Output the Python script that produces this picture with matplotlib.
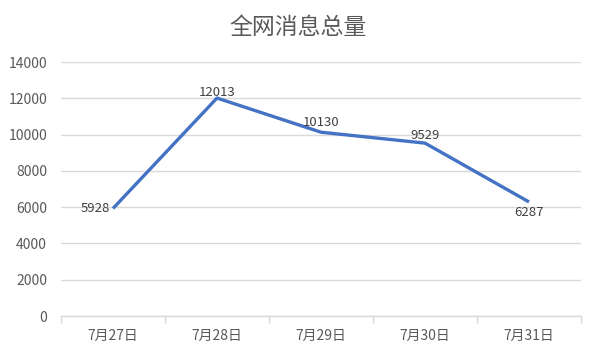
import matplotlib
matplotlib.use("Agg")
import matplotlib.pyplot as plt
from matplotlib.ticker import FixedLocator

plt.rcParams['font.family'] = ['Noto Sans CJK SC', 'DejaVu Sans']

title = "全网消息总量"
dates = ["7月27日", "7月28日", "7月29日", "7月30日", "7月31日"]
totals = [5928, 12013, 10130, 9529, 6287]
y_ticks = [0, 2000, 4000, 6000, 8000, 10000, 12000, 14000]

fig = plt.figure(figsize=(5.96, 3.56), dpi=100)
ax = fig.add_axes([61/596, 1 - 316/356, 520/596, 254/356])

x = list(range(len(dates)))
ax.plot(x, totals, color="#4472C4", linewidth=2.4, solid_capstyle="butt", zorder=3)

# data labels: left, above, above, above, below
offsets = [(-2, 0, "right", "center"), (0, -1, "center", "bottom"),
           (0, 2, "center", "bottom"), (0, 1, "center", "bottom"),
           (0, -3, "center", "top")]
for xi, v, (dx, dy, ha, va) in zip(x, totals, offsets):
    ax.annotate(str(v), (xi, v), xytext=(dx, dy), textcoords="offset points",
                ha=ha, va=va, fontsize=9.5, color="#404040", zorder=4)

ax.set_xlim(-0.5, len(dates) - 0.5)
ax.set_ylim(0, 14000)
ax.set_yticks(y_ticks)
ax.set_yticklabels([str(t) for t in y_ticks])
ax.set_xticks(x)
ax.set_xticklabels(dates)
ax.xaxis.set_minor_locator(FixedLocator([i - 0.5 for i in range(len(dates) + 1)]))

ax.grid(axis="y", color="#D9D9D9", linewidth=1.0, zorder=0)
for s in ["top", "right", "left"]:
    ax.spines[s].set_visible(False)
ax.spines["bottom"].set_color("#D9D9D9")
ax.spines["bottom"].set_linewidth(1.0)

ax.tick_params(axis="y", length=0, pad=10, labelsize=10, labelcolor="#595959")
ax.tick_params(axis="x", which="major", length=0, pad=9, labelsize=10, labelcolor="#595959")
ax.tick_params(axis="x", which="minor", length=5, width=1.0, color="#D9D9D9")

fig.text(0.5, 1 - 27/356, title, ha="center", va="center", fontsize=16.5, color="#595959")

fig.savefig("out.png", dpi=100)
